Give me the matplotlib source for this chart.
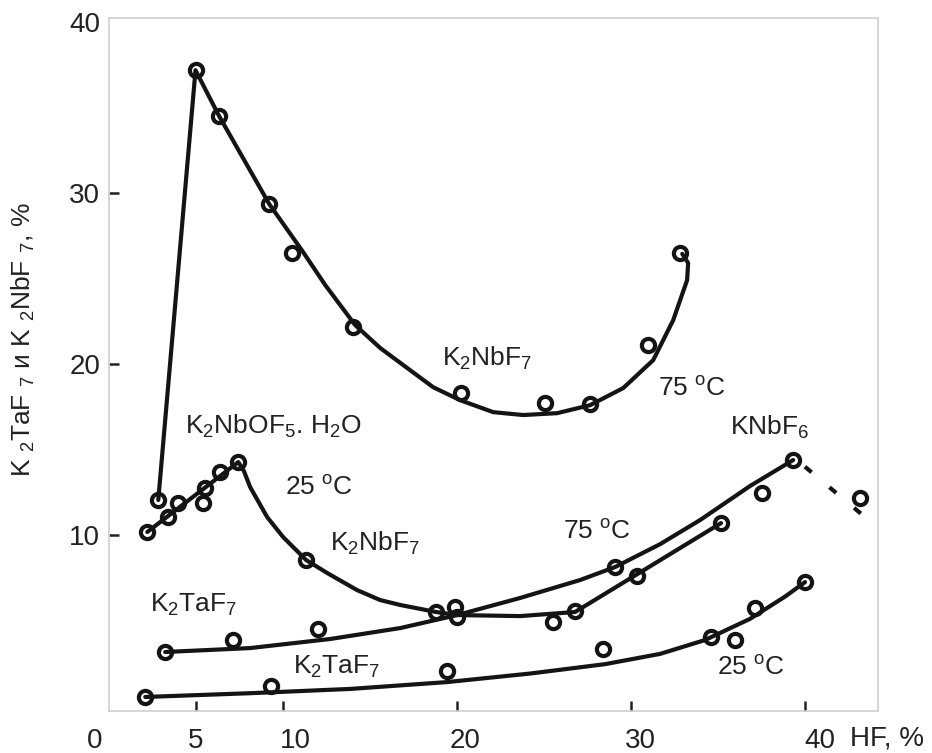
import matplotlib
matplotlib.use("Agg")
import matplotlib.pyplot as plt
from matplotlib.transforms import ScaledTranslation

plt.rcParams['font.family'] = ['Liberation Sans', 'DejaVu Sans']
plt.rcParams['mathtext.default'] = 'regular'

# ---------------- data ----------------
# K2NbF7 at 75 C (upper curve)
nb75_x = [2.83, 4.97, 6.33, 9.21, 10.53, 14.03, 20.24, 25.07, 27.66, 30.99, 32.83]
nb75_y = [12.05, 37.19, 34.50, 29.36, 26.49, 22.16, 18.30, 17.72, 17.66, 21.11, 26.49]
nb75_fit_x = [2.83, 4.97, 6.33, 9.21, 11.11, 12.43, 14.15, 15.59, 17.14, 18.63, 20.18,
              22.08, 23.80, 25.76, 27.66, 29.56, 31.28, 32.43, 33.23, 33.29, 32.95]
nb75_fit_y = [12.05, 37.19, 34.50, 29.36, 26.62, 24.62, 22.28, 20.94, 19.77, 18.65, 17.89,
              17.19, 17.02, 17.13, 17.60, 18.60, 20.23, 22.57, 24.91, 25.91, 26.45]

# K2NbOF5.H2O / K2NbF7 at 25 C
nb25_x = [2.20, 3.40, 3.98, 5.41, 5.53, 6.39, 7.43, 11.33, 18.80, 19.90, 20.01,
          25.53, 26.79, 30.36, 35.18]
nb25_y = [10.18, 11.05, 11.87, 11.87, 12.75, 13.68, 14.27, 8.54, 5.50, 5.79, 5.20,
          4.91, 5.56, 7.60, 10.70]
nb25_fit_x = [2.20, 7.43, 7.75, 8.11, 9.09, 10.01, 11.33, 12.54, 14.26, 15.58, 16.74, 18.80,
              20.01, 23.63, 26.79, 35.18]
nb25_fit_y = [10.18, 14.27, 13.75, 12.81, 11.05, 9.88, 8.54, 7.78, 6.78, 6.20, 5.91, 5.50,
              5.32, 5.26, 5.50, 10.70]

# K2TaF7 at 75 C (ending at KNbF6)
ta75_x = [3.23, 7.14, 12.04, 29.09, 37.54, 39.33]
ta75_y = [3.16, 3.86, 4.50, 8.13, 12.46, 14.39]
ta75_fit_x = [3.23, 8.11, 12.71, 16.74, 20.01, 23.63, 27.08, 29.09, 31.68, 33.98, 36.85, 39.33]
ta75_fit_y = [3.16, 3.39, 3.92, 4.56, 5.32, 6.32, 7.37, 8.13, 9.47, 10.88, 12.87, 14.39]

# KNbF6 dashed continuation
knb_x = [43.17]
knb_y = [12.16]
knb_dash_x = [40.0, 43.4]
knb_dash_y = [14.0, 11.1]

# K2TaF7 at 25 C (lower curve)
ta25_x = [2.08, 9.33, 19.40, 28.40, 34.61, 35.99, 37.14, 40.01]
ta25_y = [0.53, 1.17, 2.05, 3.33, 4.04, 3.86, 5.73, 7.25]
ta25_fit_x = [2.08, 8.11, 13.86, 19.43, 24.21, 28.52, 31.68, 34.26, 36.85, 38.86, 40.01]
ta25_fit_y = [0.53, 0.75, 1.00, 1.40, 1.90, 2.45, 3.05, 3.86, 5.10, 6.40, 7.25]

x_ticks = [0, 5, 10, 20, 30, 40]
x_ticklabels = ['0', '5', '10', '20', '30', '40']
y_ticks = [10, 20, 30, 40]
y_ticklabels = ['10', '20', '30', '40']

# ---------------- figure ----------------
INK = '#141414'
fig = plt.figure(figsize=(9.32, 7.53), dpi=100)
ax = fig.add_axes([0.117, 0.0558, 0.825, 0.920])
ax.set_xlim(0, 44.2)
ax.set_ylim(-0.29, 40.23)

line_kw = dict(color=INK, lw=3.0, solid_capstyle='round', solid_joinstyle='round', zorder=2)
mk_kw = dict(ls='none', marker='o', ms=9.5, mew=3.0, mec=INK, mfc='none', zorder=3)

for fx, fy, px, py in [(nb75_fit_x, nb75_fit_y, nb75_x, nb75_y),
                       (nb25_fit_x, nb25_fit_y, nb25_x, nb25_y),
                       (ta75_fit_x, ta75_fit_y, ta75_x, ta75_y),
                       (ta25_fit_x, ta25_fit_y, ta25_x, ta25_y)]:
    ax.plot(fx, fy, **line_kw)
    ax.plot(px, py, **mk_kw)

ax.plot(knb_dash_x, knb_dash_y, color=INK, lw=3.0, ls=(0, (2.1, 5.6)),
        dash_capstyle='butt', zorder=2)
ax.plot(knb_x, knb_y, **mk_kw)

# annotations
tkw = dict(fontsize=19, color='#222222', ha='left', va='center')
ax.text(19.15, 20.35, 'K$_2$NbF$_7$', **tkw)
ax.text(31.56, 18.54, '75 $^{o}$C', **tkw)
ax.text(4.38, 16.37, 'K$_2$NbOF$_5$. H$_2$O', **tkw)
ax.text(10.13, 12.75, '25 $^{o}$C', **tkw)
ax.text(12.71, 9.53, 'K$_2$NbF$_7$', **tkw)
ax.text(26.10, 10.18, '75 $^{o}$C', **tkw)
ax.text(35.70, 16.32, 'KNbF$_6$', **tkw)
ax.text(2.37, 5.91, 'K$_2$TaF$_7$', **tkw)
ax.text(10.59, 2.28, 'K$_2$TaF$_7$', **tkw)
ax.text(34.95, 2.22, '25 $^{o}$C', **tkw)

# spines / ticks
for s in ax.spines.values():
    s.set_color('#cfcfcf')
    s.set_linewidth(1.2)

ax.set_xticks(x_ticks)
ax.set_xticklabels(x_ticklabels)
ax.set_yticks(y_ticks)
ax.set_yticklabels(y_ticklabels)
ax.tick_params(axis='both', direction='in', length=7, width=1.8, color='#222222',
               labelsize=20, labelcolor='#222222')
ax.tick_params(axis='x', pad=12)
ax.tick_params(axis='y', pad=6.5)
ax.xaxis.get_major_ticks()[0].tick1line.set_visible(False)
ax.yaxis.get_major_ticks()[-1].tick1line.set_visible(False)

offsets_px = [-14, 0, 12, 8, 9, 15]
for lbl, dx in zip(ax.get_xticklabels(), offsets_px):
    lbl.set_transform(lbl.get_transform() + ScaledTranslation(dx / 100, 0, fig.dpi_scale_trans))

ax.text(42.6, -0.039, 'HF, %', transform=ax.get_xaxis_transform(), fontsize=20,
        color='#222222', ha='left', va='center')

fig.text(23 / 932, 1 - 340 / 753, 'K $_2$TaF $_7$ и K $_2$NbF $_7$, %', rotation=90,
         fontsize=19, color='#222222', ha='center', va='center')

fig.savefig('out.png', dpi=100)
